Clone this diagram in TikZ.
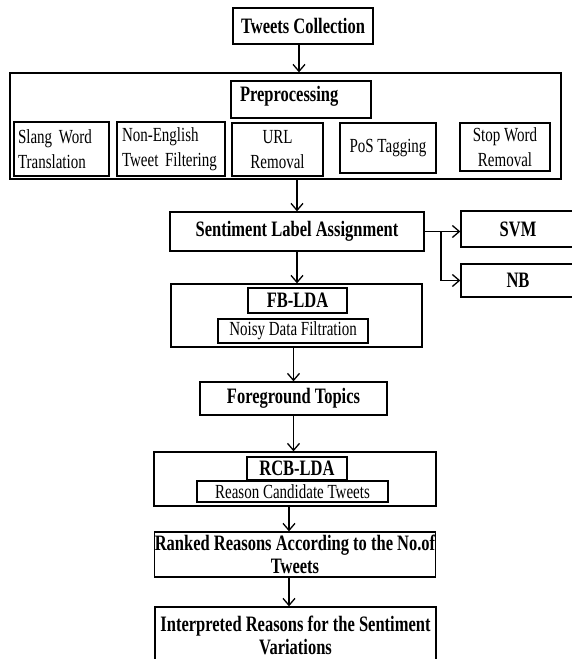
\documentclass[tikz,border=0pt]{standalone}
\usepackage{fontspec}
\setmainfont{Liberation Serif}[FakeStretch=0.75]
\usetikzlibrary{arrows.meta}

\tikzset{
  box/.style 2 args={draw, line width=1.3pt, minimum width=#1, minimum height=#2, inner sep=0pt, align=center},
  headtxt/.style={font=\fontsize{22}{23}\selectfont\bfseries},
  subtxt/.style={font=\fontsize{20}{25}\selectfont},
  arr/.style={line width=1.3pt, -{Straight Barb[length=7pt,width=12pt]}}
}

\begin{document}
\begin{tikzpicture}[x=1pt,y=-1pt]
\useasboundingbox (0,0) rectangle (571,659);
% collection and preprocessing
\node[box={140pt}{36pt}, headtxt] (tc) at (303,26) {Tweets Collection};
\node[box={551pt}{106pt}] (pre) at (285.5,126) {};
\node[box={140pt}{37pt}, headtxt, text width=122pt, align=left, text depth=12pt] (prep) at (301,99.5) {Preprocessing};
\node[box={95pt}{54pt}, subtxt, text width=87pt, align=left] (slang) at (61.5,149) {Slang Word\\Translation};
\node[box={108pt}{54pt}, subtxt, text width=98pt, align=left] (noneng) at (171,149) {Non-English\\Tweet Filtering};
\node[box={91pt}{53pt}, subtxt] (url) at (277.5,149.5) {URL\\Removal};
\node[box={96pt}{50pt}, subtxt] (pos) at (388,148) {PoS Tagging};
\node[box={90pt}{48pt}, subtxt] (stop) at (505,147) {Stop Word\\Removal};
% labelling and classifiers
\node[box={254pt}{39pt}, headtxt] (sla) at (297,231.5) {Sentiment Label Assignment};
\node[box={114pt}{36pt}, headtxt] (svm) at (518,229) {SVM};
\node[box={114pt}{33pt}, headtxt] (nb) at (518,280.5) {NB};
\coordinate (fork) at (441,231.5);
% FB-LDA
\node[box={251pt}{63pt}] (fb) at (296.5,315.5) {};
\node[box={99pt}{25pt}, headtxt] (fblda) at (297.5,300.5) {FB-LDA};
\node[box={150pt}{24pt}, subtxt] (noisy) at (293,331) {Noisy Data Filtration};
\node[box={187pt}{33pt}, headtxt] (fg) at (293.5,398.5) {Foreground Topics};
% RCB-LDA
\node[box={282pt}{54pt}] (rcb) at (295,479) {};
\node[box={100pt}{23pt}, headtxt] (rcblda) at (297,468.5) {RCB-LDA};
\node[box={191pt}{21pt}, subtxt] (rct) at (292.5,491.5) {Reason Candidate Tweets};
\node[box={280pt}{45pt}, headtxt] (rnk) at (295,554.5) {Ranked Reasons According to the No.of\\Tweets};
\node[box={281pt}{56pt}, headtxt] (intp) at (295.5,635) {Interpreted Reasons for the Sentiment\\Variations};
% connectors
\draw[arr] ([xshift=-4pt]tc.south) -- ([xshift=-4pt]tc.south |- pre.north);
\draw[arr] (pre.south -| sla) -- (sla);
\draw[arr] (sla.east) -- (sla.east -| svm.west);
\draw[arr] (fork) |- (nb.west);
\draw[arr] (sla.south) -- (sla.south |- fb.north);
\draw[arr] (fg.north |- fb.south) -- (fg.north);
\draw[arr] (fg.south) -- (fg.south |- rcb.north);
\draw[arr] ([xshift=-6pt]rcb.south) -- ([xshift=-6pt]rcb.south |- rnk.north);
\draw[arr] ([xshift=-6pt]rnk.south) -- ([xshift=-6pt]rnk.south |- intp.north);
\end{tikzpicture}
\end{document}
